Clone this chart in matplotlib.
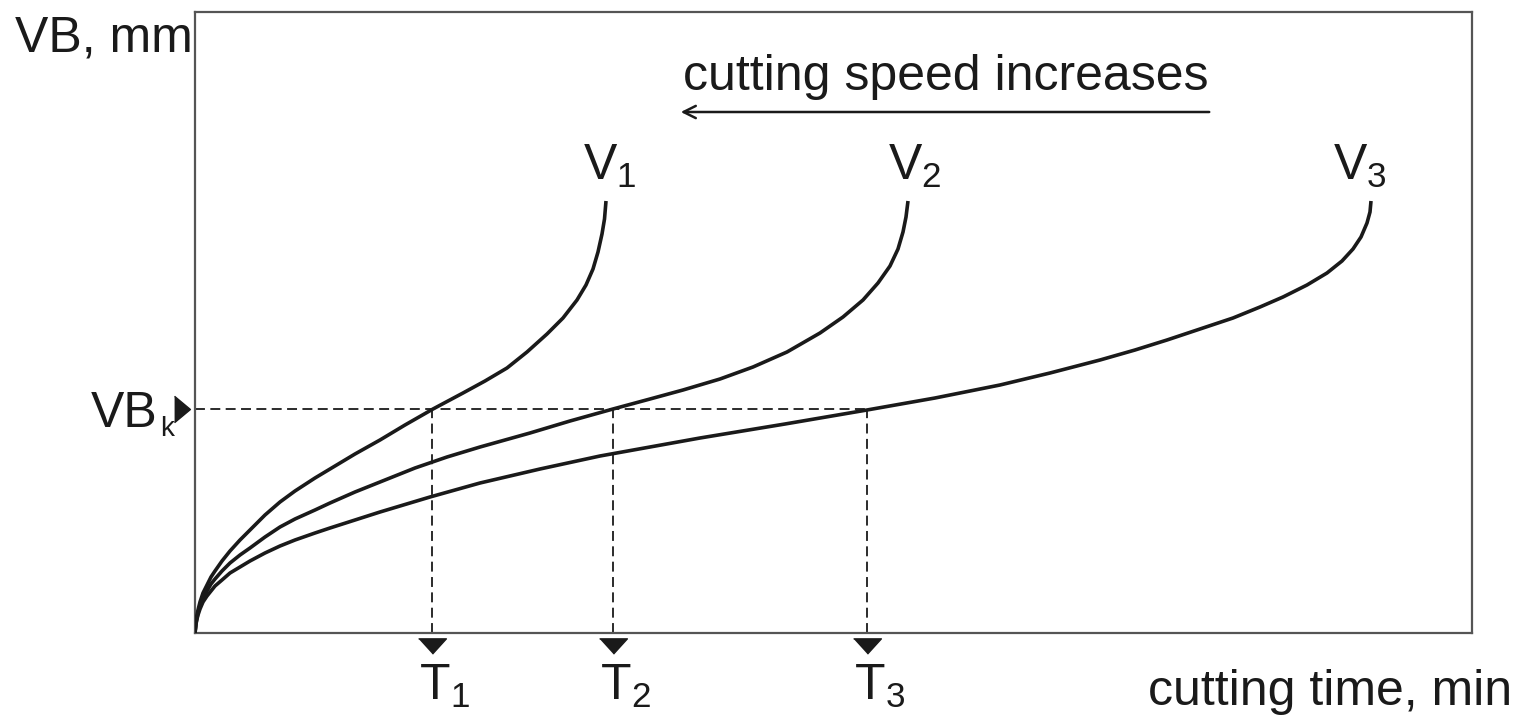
import matplotlib.pyplot as plt

# fonts: Arial-like look, subscripts via mathtext in the same family
plt.rcParams['font.family'] = ['Liberation Sans', 'DejaVu Sans']
plt.rcParams['mathtext.fontset'] = 'custom'
plt.rcParams['mathtext.rm'] = 'Liberation Sans'
plt.rcParams['mathtext.it'] = 'Liberation Sans'

# tool wear curves (time and wear in arbitrary units)
time_v1 = [0, 1, 2, 3, 5, 8, 12, 16, 20, 27, 35, 45, 55, 70, 85, 100, 120, 135, 160, 185, 210, 238, 268,
           290, 312, 332, 352, 368, 382, 391, 398, 403, 407, 409.5, 411]
wear_v1 = [0, 12, 18, 23, 31, 40, 48, 56, 62, 72, 82, 93, 103, 118, 131, 142, 155, 164, 179, 193, 208, 224,
           240, 252, 265, 281, 299, 315, 333, 348, 364, 381, 399, 414, 432]

time_v2 = [0, 1, 2, 3, 5, 8, 12, 16, 20, 27, 35, 45, 55, 70, 85, 100, 120, 135, 160, 185, 220, 252, 285,
           335, 375, 418, 455, 488, 525, 558, 592, 625, 648, 668, 683, 695, 703, 708, 711, 713]
wear_v2 = [0, 10, 15, 20, 27, 35, 42, 49, 54, 62, 70, 78, 85, 96, 106, 114, 123, 130, 141, 151, 165, 176,
           186, 200, 212, 224, 234, 243, 254, 266, 281, 300, 316, 333, 350, 367, 384, 401, 416, 432]

time_v3 = [0, 1, 2, 3, 5, 8, 12, 16, 20, 27, 35, 45, 55, 70, 85, 100, 120, 135, 160, 185, 235, 285, 345,
           405, 455, 505, 590, 672, 740, 805, 855, 905, 940, 972, 1005, 1038, 1065, 1088, 1112, 1132, 1147,
           1158, 1166, 1172, 1175, 1176]
wear_v3 = [0, 9, 14, 18, 24, 31, 37, 42, 47, 53, 60, 66, 72, 80, 87, 93, 100, 105, 113, 121, 136, 150, 164,
           177, 186, 195, 209, 223, 235, 248, 260, 273, 283, 293, 304, 315, 326, 336, 348, 360, 372,
           384, 396, 410, 421, 432]

curve_labels = ['V$_1$', 'V$_2$', 'V$_3$']
label_time = [388, 693, 1138]
label_wear = 453

# wear criterion and resulting tool lives
vb_k = 224
tool_life = [237, 418, 672]
life_labels = ['T$_1$', 'T$_2$', 'T$_3$']

ink = '#1a1a1a'

fig = plt.figure(figsize=(15.21, 7.15), dpi=100)
ax = fig.add_axes([195 / 1521, 82 / 715, 1277 / 1521, 621 / 715])
ax.set_xlim(0, 1277)
ax.set_ylim(0, 621)
ax.set_xticks([])
ax.set_yticks([])
for s in ax.spines.values():
    s.set_color('#555555')
    s.set_linewidth(1.6)

# the three curves
for t, w in [(time_v1, wear_v1), (time_v2, wear_v2), (time_v3, wear_v3)]:
    ax.plot(t, w, color=ink, lw=2.6, solid_capstyle='butt', solid_joinstyle='round', zorder=3)

for lab, x in zip(curve_labels, label_time):
    ax.text(x, label_wear, lab, fontsize=36, color=ink, ha='left', va='baseline')

# VB_k level and tool life lines
ax.plot([0, max(tool_life)], [vb_k, vb_k], color=ink, lw=1.3, dashes=(5.5, 3), zorder=2)
for T in tool_life:
    ax.plot([T, T], [0, vb_k], color=ink, lw=1.3, dashes=(5.5, 3), zorder=2)

# markers outside the box
tri_down = [(-1, 0.55), (1, 0.55), (0, -0.55)]
tri_right = [(-0.6, 1), (0.6, 0), (-0.6, -1)]
ax.plot(tool_life, [-13] * 3, ls='none', marker=tri_down, ms=20, color=ink, clip_on=False)
ax.plot([-13], [vb_k], ls='none', marker=tri_right, ms=19, color=ink, clip_on=False)

for lab, T in zip(life_labels, tool_life):
    ax.text(T - 13, -67, lab, fontsize=36, color=ink, ha='left', va='baseline')
ax.text(-104, vb_k - 18, 'VB', fontsize=36, color=ink, ha='left', va='baseline')
ax.text(-35, vb_k - 27, 'k', fontsize=20, color=ink, ha='left', va='baseline')

# axis titles
ax.text(-180, 581, 'VB, mm', fontsize=36, color=ink, ha='left', va='baseline')
ax.text(953, -72, 'cutting time, min', fontsize=36, color=ink, ha='left', va='baseline')

# speed arrow
ax.annotate('', xy=(483, 521), xytext=(1017, 521),
            arrowprops=dict(arrowstyle='->', color=ink, lw=1.8, mutation_scale=22))
ax.text(488, 543, 'cutting speed increases', fontsize=36, color=ink, ha='left', va='baseline')

fig.savefig('out.png', dpi=100)
